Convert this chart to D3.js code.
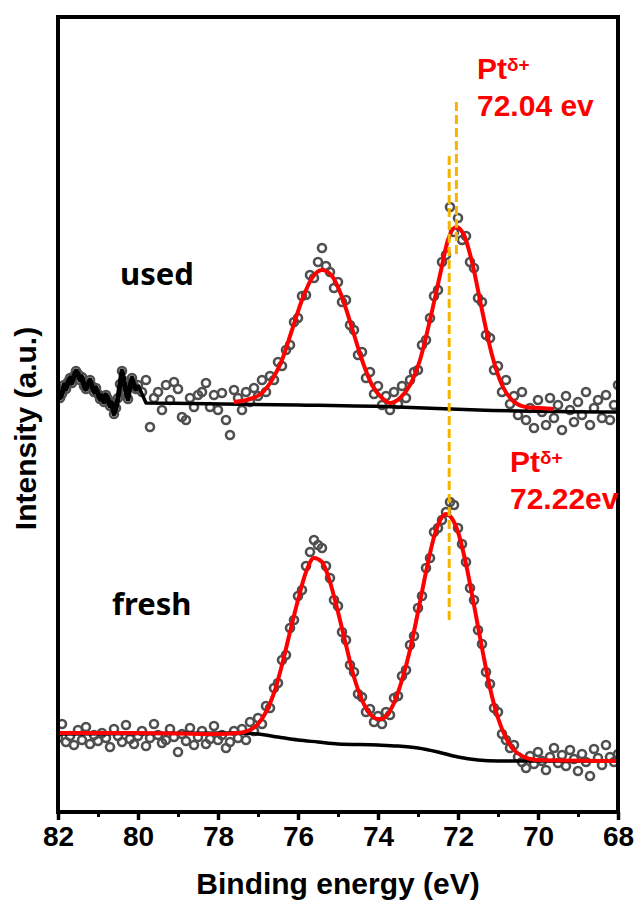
<!DOCTYPE html>
<html>
<head>
<meta charset="utf-8">
<script src="https://cdn.jsdelivr.net/npm/d3@7"></script>
<style>
  body { margin: 0; background: #fff; }
</style>
</head>
<body>
<div id="chart"></div>
<script>
// Pt 4f XPS, fresh vs used. Intensity in arbitrary units.
const energyTicks = [82, 80, 78, 76, 74, 72, 70, 68];

// fresh: measured points from 82.0 eV down to 68.0 eV, 0.1 eV step
const freshCounts = [
  74, 88, 70, 76, 67, 82, 72, 85, 68, 77, 71, 79, 74, 65, 83, 76, 70, 87, 73, 68,
  76, 81, 66, 74, 88, 77, 69, 72, 83, 75, 60, 78, 71, 84, 67, 75, 81, 68, 73, 86,
  72, 77, 64, 70, 81,
  74, 83, 72, 90, 81, 94, 88, 106, 104, 124,
  129, 152, 157, 184, 192, 216, 222, 246, 260, 272,
  267, 264, 246, 234, 212, 206, 180, 172, 147, 140,
  118, 115, 100, 103, 90, 96, 88, 100, 97, 114,
  116, 136, 142, 167, 176, 204, 216, 244, 254, 280,
  284, 292, 300, 310, 307, 284, 268, 250, 224, 212,
  182, 168, 140, 128, 104, 100, 78, 72, 64, 67,
  55, 50, 44, 56, 48, 60, 51, 42, 55, 64,
  49, 57, 46, 62, 53, 41, 58, 50, 36, 63,
  54, 47, 67, 55, 50, 58
];

// used: dense points 82.00 -> 80.05 eV, 0.05 eV step
const usedEdgeCounts = [
  420, 414, 418, 427, 423, 430, 434, 429, 436, 441, 438, 432, 435, 426, 423, 428,
  432, 426, 420, 424, 418, 413, 416, 410, 417, 413, 406, 409, 398, 404, 414, 428,
  441, 431, 420, 413, 426, 434, 426, 423
];

// used: 80.0 -> 68.0 eV, 0.1 eV step
const usedCounts = [
  427, 420, 432, 385, 414, 420, 402, 427, 412, 430, 423, 395, 392, 414, 405, 417,
  420, 429, 405, 417, 402, 419, 392, 377, 422,
  414, 402, 420, 410, 424, 416, 432, 420, 436, 432,
  450, 446, 462, 467, 490, 494, 516, 517, 537, 534,
  550, 564, 546, 540, 524, 530, 510, 512, 487, 482,
  457, 460, 434, 440, 418, 426, 407, 416, 402, 420,
  408, 426, 414, 432, 440, 442, 467, 472, 494, 516,
  522, 550, 557, 605, 580, 594, 572, 576, 550, 544,
  514, 510, 477, 474, 442, 446, 420, 432, 408, 416,
  397, 420, 392, 404, 384, 412, 400, 387, 414, 394,
  407, 382, 416, 402, 390, 410, 397, 420, 387, 404,
  412, 394, 417, 392, 407, 427
];

// fitted envelopes and backgrounds, [energy, intensity]
const freshFit = [
  [82, 79], [80, 79], [78, 78], [77.5, 79], [77.2, 82], [77.0, 88], [76.8, 100],
  [76.6, 119], [76.4, 147], [76.2, 180], [76.0, 212], [75.8, 240], [75.6, 254],
  [75.4, 250], [75.2, 230], [75.0, 200], [74.8, 167], [74.6, 135], [74.4, 112],
  [74.2, 98], [74.0, 93], [73.9, 93], [73.8, 96], [73.6, 109], [73.4, 132],
  [73.2, 162], [73.0, 200], [72.8, 240], [72.6, 275], [72.4, 295], [72.3, 298],
  [72.2, 296], [72.0, 280], [71.8, 248], [71.6, 207], [71.4, 164], [71.2, 124],
  [71.0, 94], [70.8, 74], [70.6, 62], [70.4, 56], [70.2, 53], [70.0, 52], [68, 51]
];
const freshBackground = [
  [82, 78], [77.5, 79], [77, 78], [76.5, 75], [76, 72], [75.5, 70], [75, 68],
  [74, 67], [73.5, 66], [73, 64], [72.5, 60], [72, 55], [71.5, 52], [71, 51], [68, 51]
];
const usedFit = [
  [77.6, 410], [77.2, 413], [76.9, 419], [76.65, 432], [76.4, 452], [76.15, 482],
  [75.9, 512], [75.65, 534], [75.4, 542], [75.15, 536], [74.9, 515], [74.65, 484],
  [74.4, 452], [74.15, 427], [73.9, 414], [73.7, 409], [73.45, 414], [73.2, 427],
  [72.95, 452], [72.7, 492], [72.45, 537], [72.25, 572], [72.05, 585], [71.85, 577],
  [71.65, 550], [71.4, 502], [71.15, 457], [70.9, 427], [70.65, 412], [70.3, 405],
  [69.95, 404], [69.6, 403]
];
const usedBackground = [
  [79.8, 409], [76, 407], [73.5, 405], [71.5, 402], [68, 400]
];

const peakMarks = [
  { energy: 72.04, top: 710, bottom: 557, value: "72.04 ev", x: 477, y: 79 },
  { energy: 72.22, top: 656, bottom: 189, value: "72.22ev", x: 510, y: 472 }
];
const sampleLabels = [
  { name: "used", x: 120, y: 285 },
  { name: "fresh", x: 112, y: 615 }
];

const width = 641, height = 905;
const margin = { top: 17, right: 23, bottom: 93, left: 58 };

const x = d3.scaleLinear().domain([82, 68]).range([margin.left, width - margin.right]);
const y = d3.scaleLinear().domain([0, 795]).range([height - margin.bottom, margin.top]);

const svg = d3.select("#chart").append("svg")
  .attr("width", width)
  .attr("height", height)
  .style("font-family", "'Liberation Sans', Arial, sans-serif");

svg.append("defs").append("clipPath").attr("id", "plot")
  .append("rect")
  .attr("x", margin.left).attr("y", margin.top)
  .attr("width", width - margin.left - margin.right)
  .attr("height", height - margin.top - margin.bottom);

const freshPts = freshCounts.map((v, i) => [82 - i * 0.1, v]);
const usedEdgePts = usedEdgeCounts.map((v, i) => [82 - i * 0.05, v]);
const usedPts = usedCounts.map((v, i) => [80 - i * 0.1, v]);

const plot = svg.append("g").attr("clip-path", "url(#plot)");

plot.append("g")
  .attr("fill", "none")
  .attr("stroke", "#4f4f4f")
  .attr("stroke-width", 2.6)
  .selectAll("circle")
  .data(freshPts.concat(usedEdgePts, usedPts))
  .join("circle")
  .attr("cx", d => x(d[0]))
  .attr("cy", d => y(d[1]))
  .attr("r", 4);

const smooth = d3.line().x(d => x(d[0])).y(d => y(d[1])).curve(d3.curveMonotoneX);
const straight = d3.line().x(d => x(d[0])).y(d => y(d[1]));

// used: raw trace at the high-energy end joins the background
plot.append("path")
  .attr("d", straight(usedEdgePts.concat([usedPts[0]])))
  .attr("fill", "none")
  .attr("stroke", "#000")
  .attr("stroke-width", 5)
  .attr("stroke-linejoin", "round");

plot.append("path")
  .attr("d", straight([usedPts[0], usedBackground[0]]) + smooth(usedBackground).replace("M", "L"))
  .attr("fill", "none")
  .attr("stroke", "#000")
  .attr("stroke-width", 3.5)
  .attr("stroke-linejoin", "round");

plot.append("path")
  .attr("d", smooth(freshBackground))
  .attr("fill", "none")
  .attr("stroke", "#000")
  .attr("stroke-width", 3.5);

plot.selectAll(".fit")
  .data([freshFit, usedFit])
  .join("path")
  .attr("class", "fit")
  .attr("d", smooth)
  .attr("fill", "none")
  .attr("stroke", "#ff0000")
  .attr("stroke-width", 4);

svg.append("g")
  .selectAll("line")
  .data(peakMarks)
  .join("line")
  .attr("x1", d => x(d.energy)).attr("x2", d => x(d.energy))
  .attr("y1", d => y(d.top)).attr("y2", d => y(d.bottom))
  .attr("stroke", "#f5b400")
  .attr("stroke-width", 3)
  .attr("stroke-dasharray", "9,4");

// frame
svg.append("rect")
  .attr("x", margin.left).attr("y", margin.top)
  .attr("width", width - margin.left - margin.right)
  .attr("height", height - margin.top - margin.bottom)
  .attr("fill", "none")
  .attr("stroke", "#000")
  .attr("stroke-width", 4);

// x axis, major + minor ticks
const xAxis = svg.append("g")
  .attr("transform", `translate(0,${height - margin.bottom})`)
  .call(d3.axisBottom(x).tickValues(energyTicks).tickSize(8).tickPadding(6).tickFormat(d3.format("d")));
xAxis.select(".domain").remove();
xAxis.selectAll(".tick line").attr("stroke-width", 3.5);
xAxis.selectAll(".tick text")
  .attr("font-family", "'Liberation Sans', Arial, sans-serif")
  .attr("font-size", 28)
  .attr("font-weight", "bold")
  .attr("fill", "#000");

const minor = svg.append("g")
  .attr("transform", `translate(0,${height - margin.bottom})`)
  .call(d3.axisBottom(x).tickValues(d3.range(81, 68, -2)).tickSize(5).tickFormat(""));
minor.select(".domain").remove();
minor.selectAll(".tick line").attr("stroke-width", 3);

svg.append("text")
  .attr("x", (margin.left + width - margin.right) / 2)
  .attr("y", 894)
  .attr("text-anchor", "middle")
  .attr("font-size", 30)
  .attr("font-weight", "bold")
  .text("Binding energy (eV)");

svg.append("text")
  .attr("transform", `translate(36,${(margin.top + height - margin.bottom) / 2 + 14}) rotate(-90)`)
  .attr("text-anchor", "middle")
  .attr("font-size", 30)
  .attr("font-weight", "bold")
  .text("Intensity (a.u.)");

svg.append("g")
  .selectAll("text")
  .data(sampleLabels)
  .join("text")
  .attr("x", d => d.x)
  .attr("y", d => d.y)
  .attr("font-family", "'Noto Sans', 'Open Sans', sans-serif")
  .attr("font-size", 31)
  .attr("font-weight", "bold")
  .text(d => d.name);

// peak annotations
const notes = svg.append("g")
  .attr("fill", "#ff0000")
  .attr("font-weight", "bold")
  .selectAll("g")
  .data(peakMarks)
  .join("g");

const head = notes.append("text")
  .attr("x", d => d.x)
  .attr("y", d => d.y)
  .attr("font-size", 30);
head.append("tspan").text("Pt");
head.append("tspan").attr("font-size", 19).attr("dy", -8).text("δ+");

notes.append("text")
  .attr("x", d => d.x)
  .attr("y", d => d.y + 37)
  .attr("font-size", 30)
  .text(d => d.value);
</script>
</body>
</html>
